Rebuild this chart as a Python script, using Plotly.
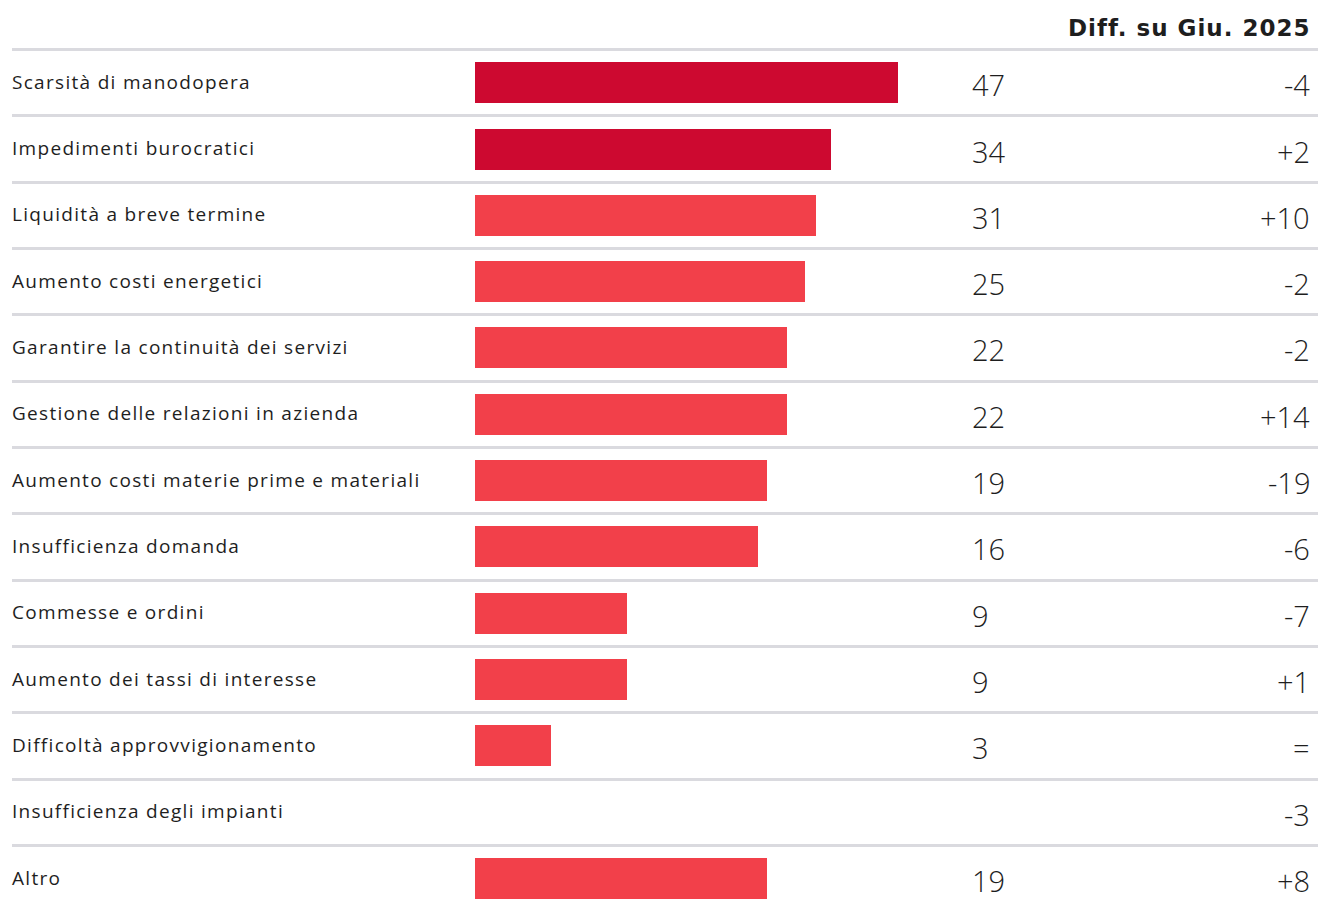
import plotly.graph_objects as go

# ---- data ----
categories = [
    "Scarsità di manodopera",
    "Impedimenti burocratici",
    "Liquidità a breve termine",
    "Aumento costi energetici",
    "Garantire la continuità dei servizi",
    "Gestione delle relazioni in azienda",
    "Aumento costi materie prime e materiali",
    "Insufficienza domanda",
    "Commesse e ordini",
    "Aumento dei tassi di interesse",
    "Difficoltà approvvigionamento",
    "Insufficienza degli impianti",
    "Altro",
]
# printed values
value_labels = ["47", "34", "31", "25", "22", "22", "19", "16", "9", "9", "3", "", "19"]
# bar lengths as drawn in the picture (same units as the top bar = 47)
bar_lengths = [47.0, 39.6, 37.9, 36.7, 34.7, 34.7, 32.4, 31.4, 16.9, 16.9, 8.4, 0, 32.4]
diff_labels = ["-4", "+2", "+10", "-2", "-2", "+14", "-19", "-6", "-7", "+1", "=", "-3", "+8"]
header = "Diff. su Giu. 2025"
highlight = [True, True] + [False] * 11

DARK = "#CD0930"
LIGHT = "#F2404A"
GRID = "#DADADF"
TEXT = "#1E1E1E"

W, H = 1319, 901
ML, MR = 12, 1
PW = W - ML - MR
ZERO_PX = 475 - ML           # bar base inside plot area
PX_PER_UNIT = 9.0
x_range = [-ZERO_PX / PX_PER_UNIT, (PW - ZERO_PX) / PX_PER_UNIT]

ROW = 66.33
FIRST_SEP = 49.5
n = len(categories)
y_top = -(FIRST_SEP + ROW / 2) / ROW
y_bot = (H - FIRST_SEP - ROW / 2) / ROW

rows = list(range(n))

fig = go.Figure()
fig.add_trace(go.Bar(
    x=bar_lengths,
    y=rows,
    orientation="h",
    width=41 / ROW,
    marker=dict(color=[DARK if h else LIGHT for h in highlight], line=dict(width=0)),
    hoverinfo="skip",
    showlegend=False,
))

def px_to_paper(px):
    return (px - ML) / PW

LABEL_FONT = dict(family="Open Sans", size=19, color=TEXT)
NUM_FONT = dict(family="Open Sans", size=29, color=TEXT, weight=300)

annotations = []
for i in rows:
    annotations.append(dict(
        x=px_to_paper(10), xref="paper", y=i, yref="y",
        text=f'<span style="letter-spacing:1.3px">{categories[i]}</span>',
        showarrow=False, xanchor="left", yanchor="middle",
        font=LABEL_FONT, yshift=1,
    ))
    if value_labels[i]:
        annotations.append(dict(
            x=px_to_paper(970), xref="paper", y=i, yref="y",
            text=value_labels[i], showarrow=False, xanchor="left", yanchor="middle",
            font=NUM_FONT, yshift=-2,
        ))
    annotations.append(dict(
        x=px_to_paper(1312), xref="paper", y=i, yref="y",
        text=diff_labels[i], showarrow=False, xanchor="right", yanchor="middle",
        font=NUM_FONT, yshift=-2,
    ))

annotations.append(dict(
    x=px_to_paper(1312), xref="paper", y=1 - 28 / H, yref="paper",
    text=f'<b><span style="letter-spacing:1px">{header}</span></b>',
    showarrow=False, xanchor="right", yanchor="middle",
    font=dict(family="DejaVu Sans", size=23, color=TEXT),
))

fig.update_layout(
    width=W, height=H,
    margin=dict(l=ML, r=MR, t=0, b=0),
    paper_bgcolor="white", plot_bgcolor="white",
    bargap=0,
    xaxis=dict(range=x_range, visible=False, fixedrange=True),
    yaxis=dict(
        range=[y_bot, y_top],
        tickvals=[i - 0.5 for i in rows],
        showticklabels=False, ticks="",
        showgrid=True, gridcolor=GRID, gridwidth=2.5,
        zeroline=False, showline=False, fixedrange=True,
    ),
    annotations=annotations,
)

fig.write_html(
    "out.html",
    config={"displayModeBar": False},
    post_script="document.body.style.margin='0';document.body.style.overflow='hidden';",
)
